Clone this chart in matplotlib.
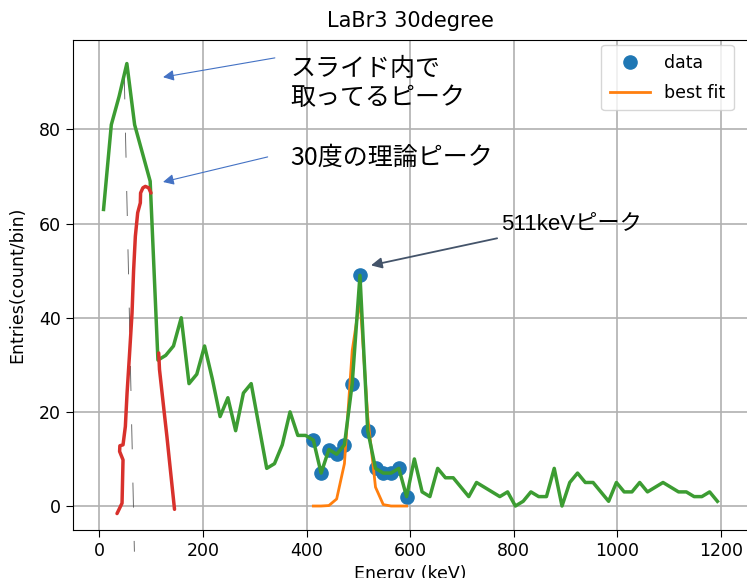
import numpy as np
import matplotlib.pyplot as plt

# histogram of LaBr3 energy spectrum, 30 degree run
energy = np.arange(8, 1200, 15)  # bin centres (keV), 15 keV bins
counts = [63, 81, 87, 94, 81, 75, 69, 31, 32, 34,
          40, 26, 28, 34, 27, 19, 23, 16, 24, 26,
          17, 8, 9, 13, 20, 15, 15, 14, 7, 12,
          11, 13, 26, 49, 16, 8, 7, 7, 8, 2,
          10, 3, 2, 8, 6, 6, 4, 2, 5, 4,
          3, 2, 3, 0, 1, 3, 2, 2, 8, 0,
          5, 7, 5, 5, 3, 1, 5, 3, 3, 5,
          3, 4, 5, 4, 3, 3, 2, 2, 3, 1]

# fit window around 511 keV (bin index range)
fit_lo, fit_hi = 27, 40
fit_vals = [0, 0, 0.1, 1.5, 9, 33, 44, 19, 4, 0.3, 0, 0, 0]

# hand-drawn theoretical 30deg peak (two strokes)
red1_x = [34, 43.7, 45.6, 39, 39.5, 45.6, 50.1, 53.4, 57.9, 63, 66, 69.4, 73.9, 79, 79.5, 84, 88.7, 95, 99.6]
red1_y = [-1.6, 0.6, 9.8, 11.6, 12.8, 13, 16.9, 24, 31.8, 41, 50, 57.3, 62.3, 64.4, 66.5, 67.6, 67.9, 67.6, 66.5]
red2_x = [114.5, 116, 119, 125, 130.4, 137, 145]
red2_y = [32.5, 29, 26, 20, 14.7, 7.7, -0.7]

# faint dotted guide drawn near 60 keV
guide_x = [48, 67.5]
guide_y = [91.7, -9.7]

fig = plt.figure(figsize=(7.47, 5.78), dpi=100)
ax = fig.add_axes([0.0977, 0.083, 0.9036, 0.8478])

ax.plot(guide_x, guide_y, color='#555555', lw=0.6, linestyle=(0, (30, 40)), clip_on=False, zorder=1)

e_fit = energy[fit_lo:fit_hi]
c_fit = counts[fit_lo:fit_hi]
ax.plot(e_fit, c_fit, 'o', color='#1f77b4', ms=9.5, label='data', zorder=3)
ax.plot(e_fit, fit_vals, color='#ff7f0e', lw=2, label='best fit', zorder=3)
ax.plot(energy, counts, color='#3c9c32', lw=2.5, zorder=4)
ax.plot(red1_x, red1_y, color='#d8312c', lw=2.5, solid_capstyle='round', zorder=5)
ax.plot(red2_x, red2_y, color='#d8312c', lw=2.5, solid_capstyle='round', zorder=5)

ax.set_xlim(-51, 1252)
ax.set_ylim(-5.1, 99)
ax.set_xticks([0, 200, 400, 600, 800, 1000, 1200])
ax.set_yticks([0, 20, 40, 60, 80])
ax.grid(True, color='#b0b0b0', lw=1.2)
ax.set_axisbelow(True)
ax.tick_params(labelsize=12.5, length=5)
ax.set_title('LaBr3 30degree', fontsize=15, pad=9)
ax.set_xlabel('Energy (keV)', fontsize=12.5)
ax.set_ylabel('Entries(count/bin)', fontsize=12.5, labelpad=9)
ax.legend(loc='upper right', bbox_to_anchor=(0.979, 0.99), borderaxespad=0,
          fontsize=12.5, handlelength=2.3, labelspacing=0.7, borderpad=0.5)

# annotations
jp = ['Noto Sans CJK JP', 'DejaVu Sans']
ax.annotate('', xy=(117.6, 91), xytext=(344, 95.3),
            arrowprops=dict(arrowstyle='-|>', color='#4472c4', lw=0.8, mutation_scale=16))
ax.annotate('', xy=(117.6, 68.7), xytext=(330, 74.3),
            arrowprops=dict(arrowstyle='-|>', color='#4472c4', lw=0.8, mutation_scale=16))
ax.annotate('', xy=(519, 51), xytext=(773, 57),
            arrowprops=dict(arrowstyle='-|>', color='#44546a', lw=1.3, mutation_scale=16))
ax.text(368, 89.8, 'スライド内で\n取ってるピーク', fontsize=18, family=jp,
        va='center', ha='left', linespacing=1.12)
ax.text(368, 74, '30度の理論ピーク', fontsize=18, family=jp, va='center', ha='left')
ax.text(776, 60, '511keVピーク', fontsize=16, family=['Liberation Sans', 'Noto Sans CJK JP'],
        va='center', ha='left')

fig.savefig('out.png', dpi=100)
